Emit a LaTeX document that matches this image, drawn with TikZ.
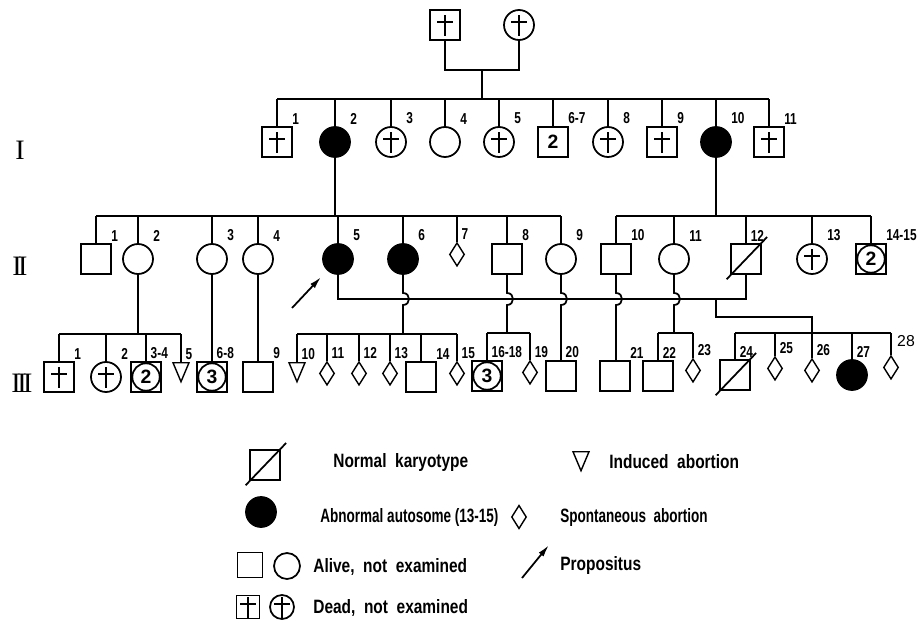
\documentclass[tikz,border=0pt]{standalone}
\usepackage{fontspec}
\setmainfont{Liberation Sans}
\newfontfamily\lblfont[FakeStretch=0.75]{Liberation Sans}
\newfontfamily\keyfont[FakeStretch=0.8]{Liberation Sans}
\newfontfamily\keyfontn[FakeStretch=0.7]{Liberation Sans}
\newfontfamily\genfont{Liberation Serif}
\usetikzlibrary{shapes.geometric,positioning,calc,arrows.meta}

% pedigree symbols
\tikzset{
  person/.style={draw, line width=1pt, inner sep=0pt, minimum size=0.6cm},
  male/.style={person, rectangle},
  female/.style={person, circle},
  affected/.style={fill=black},
  dead/.style={path picture={
      \draw[line width=0.8pt] ([yshift=-6pt]path picture bounding box.center) -- ++(0pt,11.8pt);
      \draw[line width=0.8pt] ([xshift=-4.5pt,yshift=1.7pt]path picture bounding box.center) -- ++(9pt,0pt);}},
  several/.style={male, font=\bfseries\fontsize{11}{11}\selectfont, path picture={
      \draw[line width=1pt] (path picture bounding box.center) circle (7.8pt);}},
  sab/.style={draw, diamond, line width=0.8pt, inner sep=0pt, minimum width=0.3cm, minimum height=0.47cm},
  induced/.style={draw, isosceles triangle, isosceles triangle stretches, shape border rotate=270,
      line width=0.8pt, inner sep=0pt, minimum width=0.32cm, minimum height=0.38cm},
  num/.style={font=\lblfont\bfseries\fontsize{9}{9}\selectfont, inner sep=1pt, anchor=south west, xshift=1.5pt},
  numw/.style={num, xshift=6pt},
  pline/.style={line width=1pt},
  propo/.style={line width=1pt, -{Latex[length=7pt, width=3.5pt]}},
  key/.style={font=\keyfont\bfseries\fontsize{11}{13}\selectfont, anchor=west, inner sep=0pt},
  gen/.style={font=\genfont\fontsize{16}{16}\selectfont, inner sep=0pt},
}

\newcommand{\hopdown}[2]{%
  \draw[pline] (#1) -- ($(#1 |- mline)+(0,-6)$) .. controls +(8,0) and +(8,0) .. ($(#1 |- mline)+(0,6)$) -- #2;}
\newcommand{\karyo}[1]{%
  \draw[pline] ([shift={(-11pt,-11.5pt)}]#1.center) -- ([shift={(12pt,12.5pt)}]#1.center);}

\begin{document}
\begin{tikzpicture}[x=0.02cm, y=-0.02cm]
  \useasboundingbox (0,0) rectangle (923,625);

  % generation numbers
  \node[gen] (gI) at (20,150) {I};
  \node[gen] (gII) at (20,266) {I\kern-2ptI};
  \node[gen] (gIII) at (22,383) {I\kern-2ptI\kern-2ptI};

  % grandparents
  \node[male, dead] (P1) at (445,25) {};
  \node[female, dead] (P2) at (519,25) {};
  \coordinate (m0) at (482,70);
  \coordinate (s1) at (482,99);
  \draw[pline] (P1) |- (m0) -| (P2);
  \draw[pline] (m0) -- (s1);

  % generation I
  \node[male, dead, label={[numw]north:1}] (I1) at (277,142) {};
  \node[female, affected, label={[numw]north:2}] (I2) at (335,142) {};
  \node[female, dead, label={[numw]north:3}] (I3) at (391,142) {};
  \node[female, label={[numw]north:4}] (I4) at (445,142) {};
  \node[female, dead, label={[numw]north:5}] (I5) at (499,142) {};
  \node[male, font=\bfseries\fontsize{11}{11}\selectfont, label={[numw]north:6-7}] (I6) at (553,142) {2};
  \node[female, dead, label={[numw]north:8}] (I8) at (608,142) {};
  \node[male, dead, label={[numw]north:9}] (I9) at (662,142) {};
  \node[female, affected, label={[numw]north:10}] (I10) at (716,142) {};
  \node[male, dead, label={[numw]north:11}] (I11) at (769,142) {};
  \draw[pline] (I1 |- s1) -- (I11 |- s1);
  \foreach \n in {I1,I2,I3,I4,I5,I6,I8,I9,I10,I11}
    \draw[pline] (\n) -- (\n |- s1);

  % generation II
  \coordinate (s2) at (0,216);
  \node[male, label={[numw]north:1}] (II1) at (96,259) {};
  \node[female, label={[numw]north:2}] (II2) at (138,259) {};
  \node[female, label={[numw]north:3}] (II3) at (212,259) {};
  \node[female, label={[numw]north:4}] (II4) at (258,259) {};
  \node[female, affected, label={[numw]north:5}] (II5) at (338,259) {};
  \node[female, affected, label={[numw]north:6}] (II6) at (403,259) {};
  \node[sab, anchor=north, label={[num]north:7}] (II7) at (457,242) {};
  \node[male, label={[numw]north:8}] (II8) at (507,259) {};
  \node[female, label={[numw]north:9}] (II9) at (561,259) {};
  \node[male, label={[numw]north:10}] (II10) at (616,259) {};
  \node[female, label={[numw]north:11}] (II11) at (674,259) {};
  \node[male, label={[num]north:12}] (II12) at (746,259) {};
  \node[female, dead, label={[numw]north:13}] (II13) at (812,259) {};
  \node[several, label={[numw]north:14-15}] (II14) at (871,259) {2};
  \karyo{II12}
  \draw[pline] (I2) -- (I2 |- s2);
  \draw[pline] (II1 |- s2) -- (II9 |- s2);
  \foreach \n in {II1,II2,II3,II4,II5,II6,II7,II8,II9}
    \draw[pline] (\n) -- (\n |- s2);
  \draw[pline] (I10) -- (I10 |- s2);
  \draw[pline] (II10 |- s2) -- (II14 |- s2);
  \foreach \n in {II10,II11,II12,II13,II14}
    \draw[pline] (\n) -- (\n |- s2);

  % propositus
  \coordinate (prop) at (292,308);
  \draw[propo, shorten >=5pt] (prop) -- (II5);

  % generation III
  \node[male, dead, label={[numw]north:1}] (III1) at (59,377) {};
  \node[female, dead, label={[numw]north:2}] (III2) at (106,377) {};
  \node[several, label={[num]north:3-4}] (III3) at (146,377) {2};
  \node[induced, anchor=north, label={[num]north:5}] (III5) at (181,362) {};
  \node[several, label={[num]north:6-8}] (III6) at (212,377) {3};
  \node[male, label={[numw]north:9}] (III9) at (258,377) {};
  \node[induced, anchor=north, label={[num]north:10}] (III10) at (297,362) {};
  \node[sab, anchor=north, label={[num]north:11}] (III11) at (327,361) {};
  \node[sab, anchor=north, label={[num]north:12}] (III12) at (359,361) {};
  \node[sab, anchor=north, label={[num]north:13}] (III13) at (390,361) {};
  \node[male, label={[numw]north:14}] (III14) at (421,377) {};
  \node[sab, anchor=north, label={[num]north:15}] (III15) at (457,361) {};
  \node[several, label={[num]north:16-18}] (III16) at (487,376) {3};
  \node[sab, anchor=north, label={[num]north:19}] (III19) at (530,360) {};
  \node[male, label={[num]north:20}] (III20) at (561,376) {};
  \node[male, label={[numw]north:21}] (III21) at (615,376) {};
  \node[male, label={[num]north:22}] (III22) at (658,376) {};
  \node[sab, anchor=north, label={[num]north:23}] (III23) at (693,358) {};
  \node[male, label={[num]north:24}] (III24) at (735,375) {};
  \node[sab, anchor=north, label={[num]north:25}] (III25) at (775,356) {};
  \node[sab, anchor=north, label={[num]north:26}] (III26) at (812,358) {};
  \node[female, affected, label={[num]north:27}] (III27) at (852,375) {};
  \node[sab, anchor=north] (III28) at (891,355) {};
  \node[font=\fontsize{9}{9}\selectfont, inner sep=0pt] (l28) at (906,341) {28};
  \karyo{III24}

  % sibships of generation III
  \coordinate (s3) at (0,334);
  \coordinate (s3r) at (0,333);
  \coordinate (mline) at (0,299);
  \draw[pline] (II2) -- (II2 |- s3);
  \draw[pline] (III1 |- s3) -- (III5 |- s3);
  \foreach \n in {III1,III2,III3,III5}
    \draw[pline] (\n) -- (\n |- s3);
  \draw[pline] (II3) -- (III6);
  \draw[pline] (II4) -- (III9);

  % mating line and its descendants
  \coordinate (d1) at (716,299);
  \draw[pline] (II5) |- (II12 |- mline) -- (II12);
  \draw[pline] (d1) -- (716,317) -| (III26);
  \draw[pline] (III24 |- s3r) -- (III28 |- s3r);
  \foreach \n in {III24,III25,III27,III28}
    \draw[pline] (\n) -- (\n |- s3r);

  % lines crossing the mating line
  \hopdown{II6}{(II6 |- s3)}
  \draw[pline] (III10 |- s3) -- (III15 |- s3);
  \foreach \n in {III10,III11,III12,III13,III14,III15}
    \draw[pline] (\n) -- (\n |- s3);
  \hopdown{II8}{(II8 |- s3r)}
  \draw[pline] (III16 |- s3r) -- (III19 |- s3r);
  \foreach \n in {III16,III19}
    \draw[pline] (\n) -- (\n |- s3r);
  \hopdown{II9}{(III20)}
  \hopdown{II10}{(II10 |- III21.north)}
  \hopdown{II11}{(II11 |- s3r)}
  \draw[pline] (III22 |- s3r) -- (III23 |- s3r);
  \foreach \n in {III22,III23}
    \draw[pline] (\n) -- (\n |- s3r);

  % legend
  \node[male] (kNK) at (265,465) {};
  \karyo{kNK}
  \node[key] (tNK) at (333,462) {Normal\ \ karyotype};
  \node[induced, anchor=north] (kIA) at (581,451) {};
  \node[key] (tIA) at (609,462) {Induced\ \ abortion};
  \node[female, affected] (kAA) at (261,512) {};
  \node[key, font=\keyfontn\bfseries\fontsize{11}{13}\selectfont] (tAA) at (320,517) {Abnormal autosome (13-15)};
  \node[sab] (kSA) at (519,517) {};
  \node[key, font=\keyfontn\bfseries\fontsize{11}{13}\selectfont] (tSA) at (560,517) {Spontaneous\ \ abortion};
  \node[male, minimum size=0.5cm] (kAm) at (250,565) {};
  \node[female, minimum size=0.52cm] (kAf) at (287,566) {};
  \node[key] (tAl) at (313,567) {Alive,\ \ not\ \ examined};
  \coordinate (kP0) at (522,578);
  \coordinate (kP1) at (549,545);
  \draw[propo] (kP0) -- (kP1);
  \node[key] (tP) at (560,565) {Propositus};
  \node[male, dead, minimum size=0.46cm] (kDm) at (248,607) {};
  \node[female, dead, minimum size=0.48cm] (kDf) at (282,607) {};
  \node[key] (tD) at (313,608) {Dead,\ \ not\ \ examined};
\end{tikzpicture}
\end{document}
